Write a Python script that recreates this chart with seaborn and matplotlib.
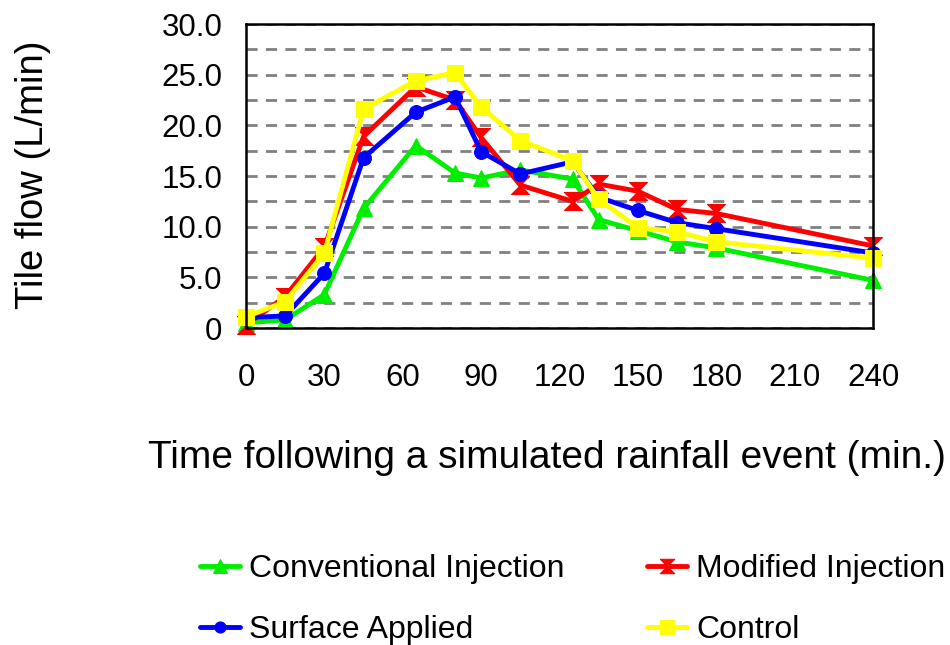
import numpy as np
import pandas as pd
import matplotlib
matplotlib.use("Agg")
import matplotlib.pyplot as plt
from matplotlib.ticker import MultipleLocator, FuncFormatter
import seaborn as sns

# Sampling times (minutes after the simulated rainfall)
time_min = [0, 15, 30, 45, 65, 80, 90, 105, 125, 135, 150, 165, 180, 240]

# Tile flow (L/min) per treatment
conventional = [0.5, 0.8, 3.3, 11.8, 18.0, 15.3, 14.8, 15.6, 14.7, 10.7, 9.6, 8.5, 7.9, 4.7]
modified = [0.3, 3.1, 8.0, 18.9, 23.8, 22.5, 18.8, 14.1, 12.5, 14.2, 13.5, 11.7, 11.3, 8.1]
surface = [1.0, 1.2, 5.4, 16.8, 21.3, 22.8, 17.4, 15.2, 16.4, 12.9, 11.6, 10.4, 9.8, 7.4]
control = [1.1, 2.6, 7.4, 21.6, 24.4, 25.2, 21.8, 18.5, 16.5, 12.7, 9.9, 9.5, 8.5, 6.9]

series_names = ["Conventional Injection", "Modified Injection", "Surface Applied", "Control"]
x_ticks = [0, 30, 60, 90, 120, 150, 180, 210, 240]
y_ticks = [0, 5, 10, 15, 20, 25, 30]

sns.set_style("white")
plt.rcParams["font.family"] = ["Liberation Sans", "DejaVu Sans"]
plt.rcParams["text.color"] = "black"
plt.rcParams["xtick.color"] = "black"
plt.rcParams["ytick.color"] = "black"
plt.rcParams["axes.labelcolor"] = "black"

df = pd.DataFrame({
    "time": time_min * 4,
    "flow": conventional + modified + surface + control,
    "treatment": np.repeat(series_names, len(time_min)),
})

# hourglass marker: two triangles meeting tip to tip
hourglass = [(-1, 1), (1, 1), (0, 0), (1, -1), (-1, -1), (0, 0), (-1, 1)]

styles = {
    "Conventional Injection": dict(color="#00ee00", marker="^", ms=12),
    "Modified Injection": dict(color="#ff0000", marker=hourglass, ms=13),
    "Surface Applied": dict(color="#0000ff", marker="o", ms=10),
    "Control": dict(color="#ffff00", marker="s", ms=12),
}

fig = plt.figure(figsize=(9.5, 6.45), dpi=100)
ax = fig.add_axes([246 / 950, 1 - 328 / 645, (873 - 246) / 950, (328 - 24) / 645])

for name in series_names:
    st = styles[name]
    sns.lineplot(
        data=df[df["treatment"] == name], x="time", y="flow",
        color=st["color"], marker=st["marker"], markersize=st["ms"],
        markeredgecolor=st["color"], linewidth=3.5, label=name,
        ax=ax, legend=False, clip_on=False,
    )

ax.set_xlim(0, 240)
ax.set_ylim(0, 30)
ax.set_xticks(x_ticks)
ax.set_yticks(y_ticks)
ax.yaxis.set_minor_locator(MultipleLocator(2.5))
ax.yaxis.set_major_formatter(FuncFormatter(lambda v, p: "0" if v == 0 else f"{v:.1f}"))

ax.grid(True, which="both", axis="y", color="#808080", linestyle=(0, (4, 3)), linewidth=2)
ax.set_axisbelow(True)
for side in ["left", "bottom", "right", "top"]:
    ax.spines[side].set_color("black")
    ax.spines[side].set_linewidth(1.8)

ax.tick_params(axis="y", which="both", direction="out", length=7, width=1.5,
               color="#808080", labelsize=22.5, pad=10)
ax.tick_params(axis="x", which="both", length=0, labelsize=22.5, pad=25)

ax.set_xlabel("Time following a simulated rainfall event (min.)", fontsize=28)
ax.set_ylabel("Tile flow (L/min)", fontsize=27.5)
ax.xaxis.set_label_coords((547 - 246) / 627, (328 - 458) / 304)
ax.yaxis.set_label_coords((33 - 246) / 627, (328 - 175) / 304)
ax.xaxis.label.set_va("center")
ax.yaxis.label.set_va("center")

# legend fills row by row: Conventional | Modified, then Surface | Control
handles, labels = ax.get_legend_handles_labels()
order = [0, 2, 1, 3]
fig.legend([handles[i] for i in order], [labels[i] for i in order],
           loc="upper left", bbox_to_anchor=(171 / 950, 1 - 525 / 645),
           ncol=2, frameon=False, fontsize=23, handlelength=1.25, handletextpad=0.28,
           columnspacing=2.6, labelspacing=0.98, markerscale=0.8, borderpad=0.4)

fig.savefig("out.png", dpi=100, facecolor="white")
